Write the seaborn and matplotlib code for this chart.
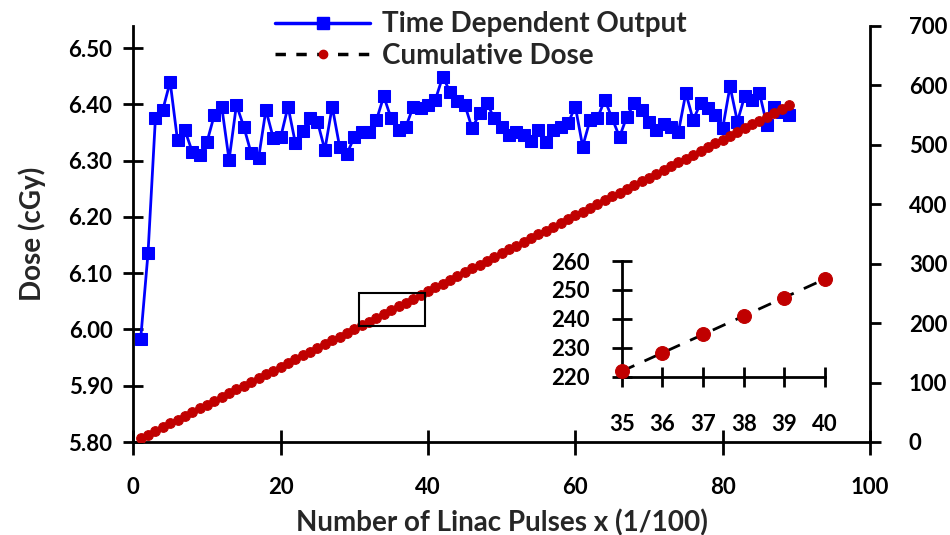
import numpy as np
import pandas as pd
import matplotlib
matplotlib.use("Agg")
import matplotlib.pyplot as plt
from matplotlib.lines import Line2D
from matplotlib.patches import Rectangle
import seaborn as sns

# ---------------- data ----------------
pulses = list(range(1, 90))
time_dependent_output = [
    5.983, 6.136, 6.375, 6.390, 6.440, 6.336, 6.354, 6.316, 6.310, 6.333,
    6.381, 6.396, 6.301, 6.399, 6.360, 6.313, 6.304, 6.390, 6.340, 6.341,
    6.396, 6.331, 6.352, 6.375, 6.369, 6.319, 6.396, 6.325, 6.312, 6.342,
    6.351, 6.351, 6.372, 6.414, 6.375, 6.354, 6.360, 6.396, 6.393, 6.399,
    6.408, 6.449, 6.422, 6.405, 6.399, 6.357, 6.384, 6.402, 6.375, 6.360,
    6.345, 6.351, 6.345, 6.335, 6.355, 6.333, 6.355, 6.360, 6.366, 6.396,
    6.325, 6.372, 6.375, 6.408, 6.375, 6.342, 6.378, 6.402, 6.390, 6.369,
    6.354, 6.365, 6.360, 6.351, 6.420, 6.372, 6.402, 6.393, 6.381, 6.357,
    6.432, 6.369, 6.415, 6.408, 6.420, 6.363, 6.396, 6.387, 6.381,
]
# cumulative dose is the running total of the per-pulse output
cumulative_dose = list(np.cumsum(time_dependent_output))

inset_pulses = [35, 36, 37, 38, 39, 40]
inset_dose = [cumulative_dose[p - 1] for p in inset_pulses]

left_ticks = [5.80, 5.90, 6.00, 6.10, 6.20, 6.30, 6.40, 6.50]
right_ticks = [0, 100, 200, 300, 400, 500, 600, 700]
x_ticks = [0, 20, 40, 60, 80, 100]
inset_xticks = [35, 36, 37, 38, 39, 40]
inset_yticks = [220, 230, 240, 250, 260]

series_labels = ["Time Dependent Output", "Cumulative Dose"]
x_label = "Number of Linac Pulses x (1/100)"
y_label = "Dose (cGy)"

df = pd.DataFrame({"pulse": pulses, "output": time_dependent_output,
                   "cumulative": cumulative_dose})
df_in = pd.DataFrame({"pulse": inset_pulses, "dose": inset_dose})

# ---------------- style ----------------
sns.set_style("white")
plt.rcParams["font.family"] = ["Lato", "DejaVu Sans"]
plt.rcParams["font.weight"] = "bold"
plt.rcParams["axes.labelweight"] = "bold"
plt.rcParams["xtick.bottom"] = True
plt.rcParams["ytick.left"] = True

BLUE = "#0000FF"
RED = "#C00000"
FS = 16
FS_BIG = 20

fig = plt.figure(figsize=(9.5, 5.35), dpi=100)
ax = fig.add_axes([133.3 / 950, 93 / 535, (870 - 133.3) / 950, (442 - 26) / 535])

sns.lineplot(data=df, x="pulse", y="output", ax=ax, color=BLUE, linewidth=2,
             marker="s", markersize=8, markeredgecolor=BLUE, markerfacecolor=BLUE)

ax2 = ax.twinx()
sns.lineplot(data=df, x="pulse", y="cumulative", ax=ax2, color="black",
             linewidth=1.5, linestyle="--", marker="o", markersize=7,
             markeredgecolor=RED, markerfacecolor=RED)

ax.set_xlim(0, 100)
ax.set_ylim(5.80, 5.80 + 0.70 * (442 - 26) / (442 - 48))
ax2.set_ylim(0, 700)
ax.set_xticks(x_ticks)
ax.set_yticks(left_ticks)
ax.set_yticklabels([f"{v:.2f}" for v in left_ticks])
ax2.set_yticks(right_ticks)

for a in (ax, ax2):
    a.spines["top"].set_visible(False)
    for s in ("left", "bottom", "right"):
        a.spines[s].set_linewidth(2)
        a.spines[s].set_color("black")
ax.spines["right"].set_visible(False)
ax2.spines["left"].set_visible(False)
ax2.spines["bottom"].set_visible(False)

ax.tick_params(axis="x", bottom=True, direction="inout", length=18, width=2,
               pad=16, labelsize=FS, colors="black")
ax.tick_params(axis="y", left=True, direction="inout", length=14, width=2,
               pad=8, labelsize=FS, colors="black")
ax2.tick_params(axis="y", right=True, direction="out", length=8, width=2,
                pad=20, labelsize=FS, colors="black")

ax.set_xlabel(x_label, fontsize=FS_BIG, fontweight="bold", labelpad=8)
ax.set_ylabel(y_label, fontsize=FS_BIG, fontweight="bold", labelpad=16)
ax2.set_ylabel("")

# zoom box marking the inset region
zoom_box = dict(x0=30.7, y0=195, w=8.9, h=56)
ax2.add_patch(Rectangle((zoom_box["x0"], zoom_box["y0"]), zoom_box["w"], zoom_box["h"],
                        fill=False, edgecolor="black", linewidth=1.5, zorder=5))

# ---------------- inset ----------------
axin = fig.add_axes([621.7 / 950, (535 - 376.7) / 535, (825 - 621.7) / 950,
                     (376.7 - 261) / 535])
axin.set_facecolor("none")
sns.lineplot(data=df_in, x="pulse", y="dose", ax=axin, color="black",
             linewidth=2, linestyle=(0, (5, 4)), marker="o", markersize=10,
             markeredgecolor=RED, markerfacecolor=RED)
axin.set_xlim(35, 40)
axin.set_ylim(220, 260)
axin.set_xticks(inset_xticks)
axin.set_yticks(inset_yticks)
axin.set_xlabel("")
axin.set_ylabel("")
for s in ("top", "right"):
    axin.spines[s].set_visible(False)
for s in ("left", "bottom"):
    axin.spines[s].set_linewidth(2)
    axin.spines[s].set_color("black")
axin.tick_params(axis="x", bottom=True, direction="inout", length=14, width=2,
                 pad=20, labelsize=FS, colors="black")
axin.tick_params(axis="y", left=True, direction="inout", length=14, width=2,
                 pad=16, labelsize=FS, colors="black")
for ln in axin.lines:
    ln.set_clip_on(False)
    ln.set_zorder(5)

# bold tick labels everywhere
for a in (ax, ax2, axin):
    for lab in a.get_xticklabels() + a.get_yticklabels():
        lab.set_fontweight("bold")

# ---------------- legend ----------------
handles = [
    Line2D([], [], color=BLUE, linewidth=2.5, marker="s", markersize=9,
           markerfacecolor=BLUE, markeredgecolor=BLUE),
    Line2D([], [], color="black", linewidth=2.5, linestyle=(0, (3, 3)), marker="o",
           markersize=6, markerfacecolor=RED, markeredgecolor=RED),
]
leg = fig.legend(handles, series_labels, loc="upper left",
                 bbox_to_anchor=(256 / 950, 1 + 8 / 535), frameon=False,
                 prop={"size": FS_BIG, "weight": "bold"}, handlelength=3.4,
                 handletextpad=0.45, labelspacing=0.2, borderpad=0.2)

fig.savefig("out.png", dpi=100)
